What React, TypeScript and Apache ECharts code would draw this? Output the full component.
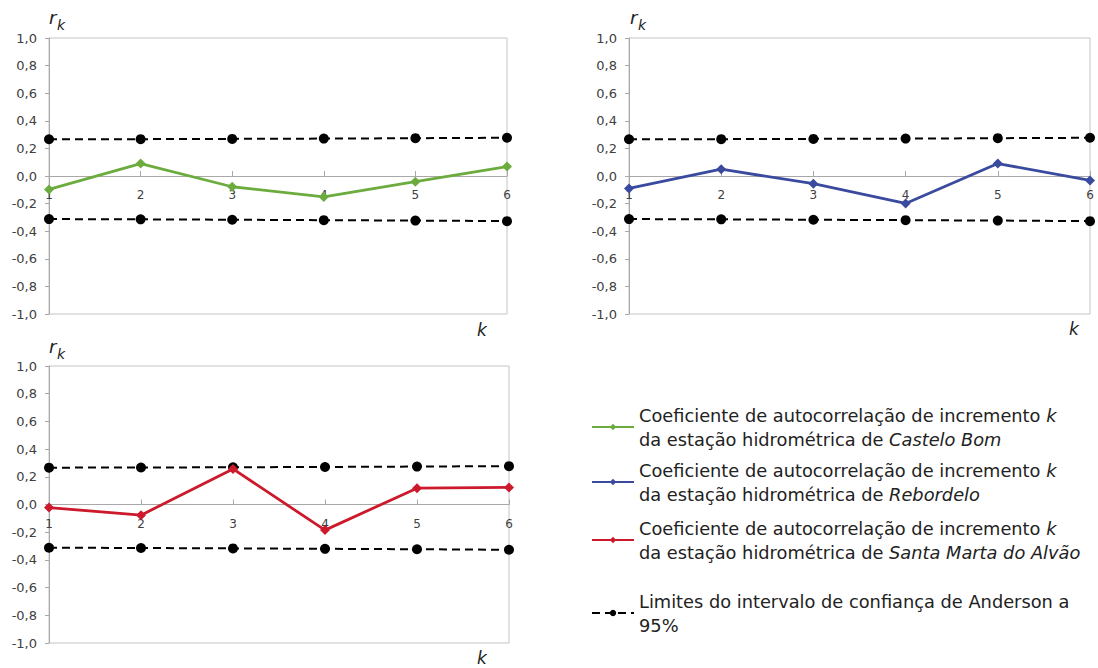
import React, { useEffect, useRef } from "react";
import * as echarts from "echarts";

const kValues = [1, 2, 3, 4, 5, 6];
const casteloBom = [-0.097, 0.09, -0.078, -0.152, -0.041, 0.068];
const rebordelo = [-0.09, 0.049, -0.056, -0.199, 0.09, -0.032];
const santaMarta = [-0.022, -0.077, 0.257, -0.185, 0.118, 0.123];
const upperLimit = [0.266, 0.267, 0.269, 0.271, 0.274, 0.277];
const lowerLimit = [-0.312, -0.314, -0.317, -0.32, -0.323, -0.327];

const NAME_CB = "Castelo Bom";
const NAME_RB = "Rebordelo";
const NAME_SM = "Santa Marta do Alvão";
const NAME_LIM = "Limites do intervalo de confiança de Anderson a 95%";

const COLORS: Record<string, string> = {
  [NAME_CB]: "#6cac3e",
  [NAME_RB]: "#3a4a9e",
  [NAME_SM]: "#cc1a2c",
};

const FONT = "DejaVu Sans";

const pair = (vals: number[]) => kValues.map((k, i) => [k, vals[i]]);

export default function App() {
  const ref = useRef<HTMLDivElement>(null);

  useEffect(() => {
    document.body.style.margin = "0";
    const chart = echarts.init(ref.current!, null, { renderer: "svg" });

    const grids = [
      { left: 49, top: 38, width: 458, height: 276 },
      { left: 629, top: 38, width: 461, height: 276 },
      { left: 49, top: 366, width: 460, height: 277 },
    ];
    const mains = [
      { name: NAME_CB, data: casteloBom },
      { name: NAME_RB, data: rebordelo },
      { name: NAME_SM, data: santaMarta },
    ];

    const xAxis = grids.map((g, i) => ({
      type: "value",
      gridIndex: i,
      min: 1,
      max: 6,
      interval: 1,
      position: "bottom",
      offset: -g.height / 2,
      axisLine: { onZero: false, lineStyle: { color: "#a8a8a8", width: 1 } },
      axisTick: { show: true, inside: true, length: 5, lineStyle: { color: "#a8a8a8" } },
      axisLabel: { margin: 13, fontFamily: FONT, fontSize: 12, color: "#404040" },
      splitLine: { show: false },
    }));
    const yAxis = grids.map((_, i) => ({
      type: "value",
      gridIndex: i,
      min: -1,
      max: 1,
      interval: 0.2,
      axisLine: { show: true, onZero: false, lineStyle: { color: "#a8a8a8", width: 1 } },
      axisTick: { show: true, length: 4, lineStyle: { color: "#a8a8a8" } },
      axisLabel: {
        margin: 12,
        fontFamily: FONT,
        fontSize: 13,
        color: "#404040",
        formatter: (v: number) => v.toFixed(1).replace(".", ","),
      },
      splitLine: { show: false },
    }));

    const series: any[] = [];
    mains.forEach((m, i) => {
      [upperLimit, lowerLimit].forEach((lim) => {
        series.push({
          type: "line",
          name: NAME_LIM,
          xAxisIndex: i,
          yAxisIndex: i,
          data: pair(lim),
          symbol: "circle",
          symbolSize: 10,
          itemStyle: { color: "#000" },
          lineStyle: { color: "#000", width: 2, type: [8, 5] },
          z: 3,
        });
      });
      series.push({
        type: "line",
        name: m.name,
        xAxisIndex: i,
        yAxisIndex: i,
        data: pair(m.data),
        symbol: "diamond",
        symbolSize: 10,
        itemStyle: { color: COLORS[m.name] },
        lineStyle: { color: COLORS[m.name], width: 2.8 },
        z: 4,
      });
    });

    const legendText: Record<string, string> = {
      [NAME_CB]: "{n|Coeficiente de autocorrelação de incremento }{i|k}\n{n|da estação hidrométrica de }{i|Castelo Bom}",
      [NAME_RB]: "{n|Coeficiente de autocorrelação de incremento }{i|k}\n{n|da estação hidrométrica de }{i|Rebordelo}",
      [NAME_SM]: "{n|Coeficiente de autocorrelação de incremento }{i|k}\n{n|da estação hidrométrica de }{i|Santa Marta do Alvão}",
      [NAME_LIM]: "{n|Limites do intervalo de confiança de Anderson a}\n{n|95%}",
    };
    const legendTops = [398, 453, 511, 584];
    const legendNames = [NAME_CB, NAME_RB, NAME_SM, NAME_LIM];
    const FS = 17.8;
    const legend = legendNames.map((nm, i) => ({
      data: [nm],
      left: 586,
      top: legendTops[i],
      orient: "vertical",
      itemWidth: 42,
      itemHeight: 8,
      itemGap: 0,
      selectedMode: false,
      formatter: (name: string) => legendText[name],
      textStyle: {
        fontFamily: FONT,
        fontSize: FS,
        color: "#222",
        lineHeight: 24,
        rich: {
          n: { fontFamily: FONT, fontSize: FS, color: "#222", lineHeight: 24 },
          i: { fontFamily: FONT, fontSize: FS, color: "#222", lineHeight: 24, fontStyle: "italic" },
        },
      },
    }));

    const titleStyle = (x: number, y: number, t: string, size: number) => ({
      type: "text",
      left: x,
      top: y,
      style: { text: t, font: `italic ${size}px '${FONT}'`, fill: "#222" },
    });
    const rk = (x: number, y: number) => [titleStyle(x, y, "r", 18), titleStyle(x + 8, y + 10, "k", 14)];

    const graphic = [
      ...rk(49, 8),
      ...rk(630, 8),
      ...rk(49, 337),
      titleStyle(477, 321, "k", 17),
      titleStyle(1069, 320, "k", 17),
      titleStyle(477, 649, "k", 17),
    ];

    chart.setOption({
      animation: false,
      backgroundColor: "#fff",
      grid: grids.map((g) => ({ ...g, show: true, borderColor: "#c4c4c4", borderWidth: 1, backgroundColor: "transparent" })),
      xAxis,
      yAxis,
      series,
      legend,
      graphic,
    });

    return () => chart.dispose();
  }, []);

  return <div ref={ref} style={{ width: 1098, height: 668 }} />;
}
